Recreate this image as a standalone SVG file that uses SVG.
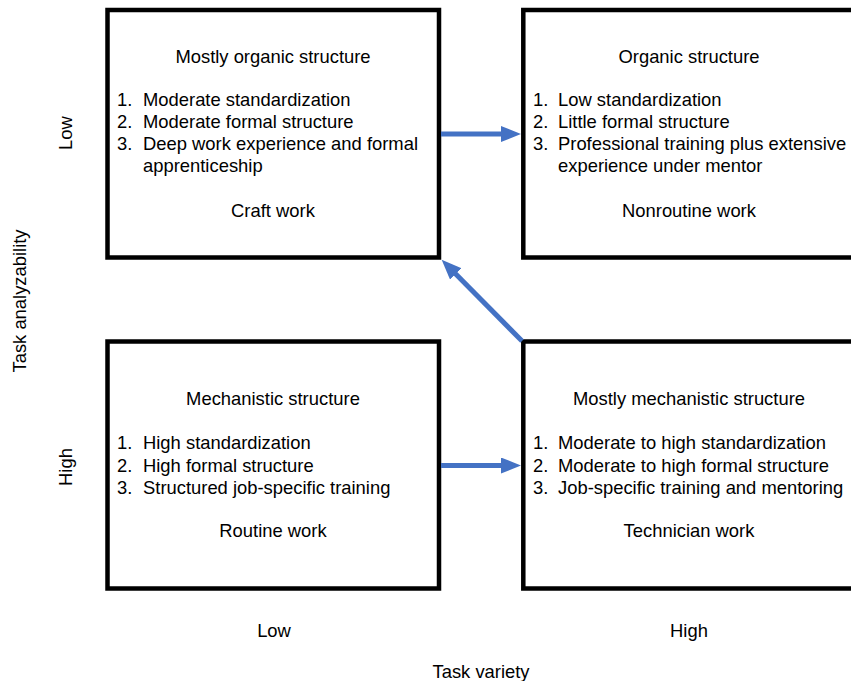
<svg xmlns="http://www.w3.org/2000/svg" width="851" height="681" viewBox="0 0 851 681">
<style>
text{font-family:"Liberation Sans",Arial,sans-serif;font-size:18.4px;fill:#000}
.box{fill:#fff;stroke:#000;stroke-width:4.5}
.c{text-anchor:middle}
.arr{stroke:#4472C4;stroke-width:5;fill:none}
</style>
<defs>
<marker id="ah" markerUnits="userSpaceOnUse" markerWidth="20" markerHeight="16" viewBox="0 0 20 16" refX="1" refY="8" orient="auto">
<path d="M0,0 L20,8 L0,16 z" fill="#4472C4"/>
</marker>
</defs>
<rect width="851" height="681" fill="#fff"/>
<g id="craft">
<rect class="box" x="107.5" y="10" width="331.5" height="247.5"/>
<text class="c" x="273" y="62.5">Mostly organic structure</text>
<text x="117" y="106">1.</text><text x="143" y="106">Moderate standardization</text>
<text x="117" y="128">2.</text><text x="143" y="128">Moderate formal structure</text>
<text x="117" y="150">3.</text><text x="143" y="150">Deep work experience and formal</text>
<text x="143" y="172">apprenticeship</text>
<text class="c" x="273" y="216.5">Craft work</text>
</g>
<g id="nonroutine">
<rect class="box" x="523.3" y="10" width="331.5" height="247.5"/>
<text class="c" x="689" y="62.5">Organic structure</text>
<text x="533" y="106">1.</text><text x="558" y="106">Low standardization</text>
<text x="533" y="128">2.</text><text x="558" y="128">Little formal structure</text>
<text x="533" y="150">3.</text><text x="558" y="150">Professional training plus extensive</text>
<text x="558" y="172">experience under mentor</text>
<text class="c" x="689" y="216.5">Nonroutine work</text>
</g>
<g id="routine">
<rect class="box" x="107.5" y="341.5" width="331.5" height="247"/>
<text class="c" x="273" y="405">Mechanistic structure</text>
<text x="117" y="449">1.</text><text x="143" y="449">High standardization</text>
<text x="117" y="471.5">2.</text><text x="143" y="471.5">High formal structure</text>
<text x="117" y="493.5">3.</text><text x="143" y="493.5">Structured job-specific training</text>
<text class="c" x="273" y="536.5">Routine work</text>
</g>
<g id="technician">
<rect class="box" x="523.3" y="341.5" width="331.5" height="247"/>
<text class="c" x="689" y="405">Mostly mechanistic structure</text>
<text x="533" y="449">1.</text><text x="558" y="449">Moderate to high standardization</text>
<text x="533" y="471.5">2.</text><text x="558" y="471.5">Moderate to high formal structure</text>
<text x="533" y="493.5">3.</text><text x="558" y="493.5">Job-specific training and mentoring</text>
<text class="c" x="689" y="536.5">Technician work</text>
</g>
<g id="connectors">
<line class="arr" x1="441" y1="134" x2="502" y2="134" marker-end="url(#ah)"/>
<line class="arr" x1="441" y1="465.5" x2="502" y2="465.5" marker-end="url(#ah)"/>
<line class="arr" x1="522" y1="341" x2="455" y2="273.2" marker-end="url(#ah)"/>
</g>
<g id="axes">
<text class="c" transform="translate(72,133) rotate(-90)">Low</text>
<text class="c" transform="translate(72,467) rotate(-90)">High</text>
<text class="c" transform="translate(26,301) rotate(-90)">Task analyzability</text>
<text class="c" x="274" y="637">Low</text>
<text class="c" x="689" y="637">High</text>
<text class="c" x="481" y="678">Task variety</text>
</g>
</svg>
